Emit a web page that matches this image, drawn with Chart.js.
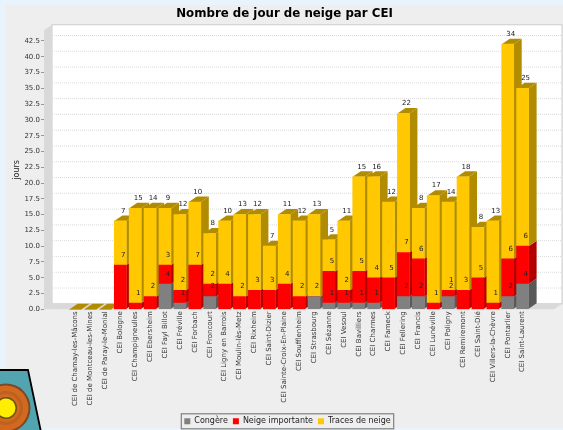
<!DOCTYPE html>
<html><head><meta charset="utf-8">
<script src="https://cdn.jsdelivr.net/npm/chart.js@4/dist/chart.umd.js"></script>
<style>html,body{margin:0;padding:0;background:#e8f3fb;overflow:hidden}canvas{display:block;filter:blur(0.45px)}</style>
</head><body><canvas id="c" width="563" height="430"></canvas>
<script>
const categories=["CEI de Chamay-les-Mâcons","CEI de Montceau-les-Mines","CEI de Paray-le-Monial","CEI Bologne","CEI Champigneulles","CEI Ebersheim","CEI Fayl Billot","CEI Fréville","CEI Forbach","CEI Froncourt","CEI Ligny en Barrois","CEI Moulin-lès-Metz","CEI Rixheim","CEI Saint-Dizier","CEI Sainte-Croix-En-Plaine","CEI Soufflenheim","CEI Strasbourg","CEI Sézanne","CEI Vesoul","CEI Bavilliers","CEI Charmes","CEI Fameck","CEI Fellering","CEI Francis","CEI Lunéville","CEI Poligny","CEI Remiremont","CEI Saint-Dié","CEI Villers-la-Chèvre","CEI Pontarlier","CEI Saint-Laurent"];
const congere=[0,0,0,0,0,0,4,1,0,2,0,0,0,0,0,0,2,1,1,1,1,0,2,2,0,2,0,0,0,2,4];
const neige=[0,0,0,7,1,2,3,2,7,2,4,2,3,3,4,2,0,5,2,5,4,5,7,6,1,1,3,5,1,6,6];
const traces=[0,0,0,7,15,14,9,12,10,8,10,13,12,7,11,12,13,5,11,15,16,12,22,8,17,14,18,8,13,34,25];
const seriesNames=["Congère","Neige importante","Traces de neige"];
const seriesColors=["#808080","#ff0000","#ffc800"];
const sideColors=["#595959","#b20000","#b28c00"];
const seriesValues=[congere,neige,traces];
const DX=8,DY=5.5,FONT="'DejaVu Sans'";

const scene={id:'scene',
 afterLayout(ch){
  const lg=ch.legend;
  lg.left+=3;lg.right+=3;
  (lg.legendHitBoxes||[]).forEach(b=>{b.left+=3;});
 },
 beforeDraw(ch){
  const g=ch.ctx,a=ch.chartArea,right=a.right-9,y=ch.scales.y;
  g.save();
  g.fillStyle='#eeeeee';g.fillRect(6,5,ch.width-6,423);
  g.fillStyle='#ffffff';g.fillRect(a.left+DX,a.top-DY,right-a.left,a.bottom-a.top);
  g.strokeStyle='#cccccc';g.lineWidth=1;g.strokeRect(a.left+DX,a.top-DY,right-a.left,a.bottom-a.top);
  g.strokeStyle='#dcdcdc';g.setLineDash([1,1]);
  y.ticks.forEach(t=>{const p=y.getPixelForValue(t.value)-DY;if(t.value>0){g.beginPath();g.moveTo(a.left+DX,p);g.lineTo(right+DX,p);g.stroke();}});
  g.setLineDash([]);
  g.fillStyle='#d9d9d9';
  g.beginPath();g.moveTo(a.left,a.top);g.lineTo(a.left+DX,a.top-DY);g.lineTo(a.left+DX,a.bottom-DY);g.lineTo(a.left,a.bottom);g.closePath();g.fill();
  g.beginPath();g.moveTo(a.left,a.bottom);g.lineTo(a.left+DX,a.bottom-DY);g.lineTo(right+DX,a.bottom-DY);g.lineTo(right,a.bottom);g.closePath();g.fill();
  const hb=ch.legend.legendHitBoxes;
  if(hb&&hb.length){
   const l=hb[0].left-3,r=hb[hb.length-1].left+hb[hb.length-1].width+3,cy=hb[0].top+hb[0].height/2;
   g.fillStyle='#eeeeee';g.strokeStyle='#808080';g.lineWidth=1.2;
   g.fillRect(l,cy-7.5,r-l,15);g.strokeRect(l,cy-7.5,r-l,15);
  }
  g.restore();
 },
 beforeDatasetsDraw(ch){
  const g=ch.ctx;g.save();
  categories.forEach((_,i)=>{
   let top=null,x=0,w=0;
   seriesValues.forEach((vals,d)=>{
    const el=ch.getDatasetMeta(d).data[i];
    x=el.x;w=12;
    if(top===null)top=el.base;
    if(vals[i]>0){
     const r=x+w/2;
     g.fillStyle=sideColors[d];
     g.beginPath();g.moveTo(r,el.y);g.lineTo(r+DX,el.y-DY);g.lineTo(r+DX,el.base-DY);g.lineTo(r,el.base);g.closePath();g.fill();
     top=el.y;
    }
   });
   const l=x-w/2,r=x+w/2;
   g.fillStyle=sideColors[2];
   g.beginPath();g.moveTo(l,top);g.lineTo(l+DX,top-DY);g.lineTo(r+DX,top-DY);g.lineTo(r,top);g.closePath();g.fill();
  });
  g.restore();
 },
 afterDatasetsDraw(ch){
  const g=ch.ctx;g.save();
  g.font="7px "+FONT;g.fillStyle='#222222';g.textAlign='center';g.textBaseline='middle';
  seriesValues.forEach((vals,d)=>{
   const m=ch.getDatasetMeta(d);
   vals.forEach((v,i)=>{if(v>0)g.fillText(String(v),m.data[i].x+3,m.data[i].y-10);});
  });
  g.restore();
 },
 afterDraw(ch){
  const g=ch.ctx;g.save();
  g.beginPath();g.moveTo(-2,370);g.lineTo(28,370);g.lineTo(41,432);g.lineTo(-2,432);g.closePath();
  g.fillStyle='#52a5b0';g.fill();g.save();g.clip();
  [[24.5,'#7a4a26'],[22.5,'#d2691e'],[17,'#bd6020'],[14,'#d2691e'],[11,'#6a5412'],[9.5,'#ffee00']].forEach(([r,c])=>{g.fillStyle=c;g.beginPath();g.arc(6,408,r,0,Math.PI*2);g.fill();});
  g.restore();
  g.strokeStyle='#000';g.lineWidth=1.8;
  g.beginPath();g.moveTo(-2,370);g.lineTo(28,370);g.lineTo(41,432);g.stroke();
  g.restore();
 }
};

new Chart(document.getElementById('c'),{
 type:'bar',
 data:{datasets:seriesNames.map((n,d)=>({label:n,backgroundColor:seriesColors[d],borderWidth:0,barThickness:12,
   data:seriesValues[d].map((v,i)=>({x:i,y:v}))}))},
 plugins:[scene],
 options:{
  responsive:false,animation:false,
  layout:{padding:{left:6,right:0,top:5,bottom:-5.3}},
  plugins:{
   title:{display:true,text:"Nombre de jour de neige par CEI",color:'#000',font:{family:FONT,size:11.8,weight:'bold'},padding:{top:1.5,bottom:9.6}},
   legend:{position:'bottom',labels:{boxWidth:6,boxHeight:6,padding:5,color:'#222',font:{family:FONT,size:8}}},
   tooltip:{enabled:false}
  },
  scales:{
   x:{type:'linear',stacked:true,offset:false,min:-2.12,max:32.71,
    afterFit(s){s.height=103;},
    grid:{display:false,drawTicks:false},border:{display:false},
    ticks:{stepSize:1,autoSkip:false,includeBounds:false,minRotation:90,maxRotation:90,padding:2,color:'#333',font:{family:FONT,size:7},
     callback(v){return categories[v]||'';}}},
   y:{stacked:true,min:0,max:44.2,
    afterFit(s){s.width=38;},
    border:{display:false},
    grid:{drawOnChartArea:false,tickLength:3,color:'#999'},
    title:{display:true,text:'jours',color:'#222',font:{family:FONT,size:8},padding:{top:6,bottom:0}},
    ticks:{stepSize:2.5,includeBounds:false,padding:1,color:'#333',font:{family:FONT,size:7},callback(v){return v.toFixed(1);}}}
  }
 }
});
</script></body></html>
